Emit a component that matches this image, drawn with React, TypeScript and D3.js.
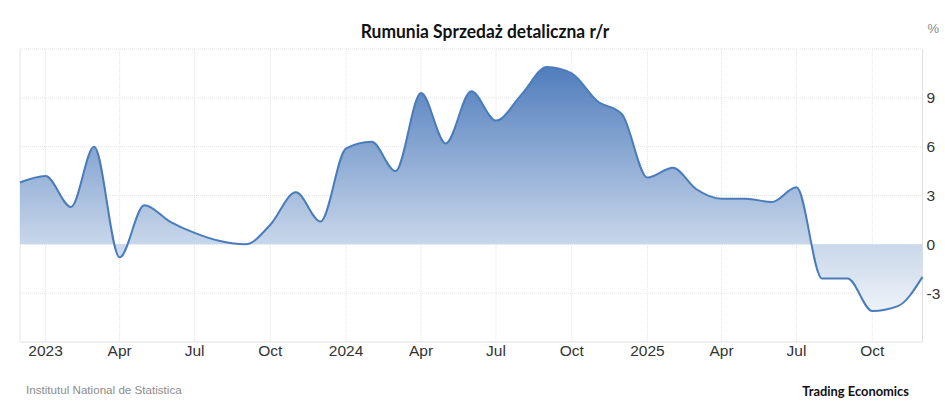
import React from "react";
import * as d3 from "d3";

const months = [
  "2022-12","2023-01","2023-02","2023-03","2023-04","2023-05","2023-06","2023-07","2023-08","2023-09","2023-10","2023-11","2023-12",
  "2024-01","2024-02","2024-03","2024-04","2024-05","2024-06","2024-07","2024-08","2024-09","2024-10","2024-11","2024-12",
  "2025-01","2025-02","2025-03","2025-04","2025-05","2025-06","2025-07","2025-08","2025-09","2025-10","2025-11","2025-12",
];
const values = [
  3.8, 4.2, 2.3, 6.0, -0.8, 2.4, 1.4, 0.7, 0.2, 0.0, 1.2, 3.2, 1.4,
  5.9, 6.3, 4.5, 9.3, 6.2, 9.4, 7.6, 9.2, 10.9, 10.5, 8.8, 8.0,
  4.1, 4.7, 3.4, 2.8, 2.8, 2.6, 3.5, -2.1, -2.1, -4.1, -3.8, -2.0,
];
const xTickDates = [
  "2023-01","2023-04","2023-07","2023-10","2024-01","2024-04","2024-07","2024-10","2025-01","2025-04","2025-07","2025-10",
];
const xTickLabels = ["2023","Apr","Jul","Oct","2024","Apr","Jul","Oct","2025","Apr","Jul","Oct"];
const yTicks = [-3, 0, 3, 6, 9];
const yGrid = [-3, 0, 3, 6, 9, 12];
const title = "Rumunia Sprzedaż detaliczna r/r";
const source = "Institutul National de Statistica";
const brand = "Trading Economics";

const W = 945;
const H = 408;
const left = 20;
const right = 922.5;
const top = 49;
const bottom = 342;

export default function App() {
  const parse = d3.timeParse("%Y-%m");
  const data = months.map((m, i) => ({ d: parse(m) as Date, v: values[i] }));
  const x = d3.scaleTime().domain([parse("2022-12") as Date, parse("2025-12") as Date]).range([left, right]);
  const y = d3.scaleLinear().domain([-6, 12]).range([bottom, top]);

  const line = d3.line<{ d: Date; v: number }>().x((p) => x(p.d)).y((p) => y(p.v)).curve(d3.curveMonotoneX);
  const area = d3
    .area<{ d: Date; v: number }>()
    .x((p) => x(p.d))
    .y0(y(0))
    .y1((p) => y(p.v))
    .curve(d3.curveMonotoneX);

  const gridColor = "#e4e4e4";

  return (
    <div style={{ position: "absolute", left: 0, top: 0, width: W, height: H, background: "#fff" }}>
      <svg width={W} height={H} style={{ display: "block" }}>
        <defs>
          <linearGradient id="fillGrad" gradientUnits="userSpaceOnUse" x1="0" y1={top} x2="0" y2={bottom}>
            <stop offset="0" stopColor="#4474b8" />
            <stop offset="0.68" stopColor="#cbd9eb" />
            <stop offset="1" stopColor="#ffffff" />
          </linearGradient>
        </defs>
        <rect x={0} y={0} width={W} height={H} fill="#fff" />
        {yGrid.map((t) => (
          <line key={"h" + t} x1={left} x2={right} y1={y(t)} y2={y(t)} stroke={gridColor} strokeWidth={1} strokeDasharray="1,1" />
        ))}
        {xTickDates.map((t) => {
          const xx = x(parse(t) as Date);
          return <line key={"v" + t} x1={xx} x2={xx} y1={top} y2={bottom} stroke={gridColor} strokeWidth={1} strokeDasharray="1,1" />;
        })}
        <line x1={left} x2={left} y1={top} y2={bottom} stroke="#e6e6e6" strokeWidth={1} />
        <line x1={right} x2={right} y1={top} y2={bottom} stroke="#e0e0e0" strokeWidth={1} />
        <line x1={left} x2={right} y1={bottom} y2={bottom} stroke="#e0e0e0" strokeWidth={1} />
        <path d={area(data) || ""} fill="url(#fillGrad)" />
        <path d={line(data) || ""} fill="none" stroke="#4a7cbc" strokeWidth={2} />
        {yTicks.map((t) => (
          <text key={"yl" + t} x={926.5} y={y(t) + 5.5} fontFamily="'Liberation Sans', Arial, sans-serif" fontSize={15.5} fill="#333">
            {t}
          </text>
        ))}
        <text x={927.5} y={33} fontFamily="'Liberation Sans', Arial, sans-serif" fontSize={13} fill="#888">%</text>
        {xTickDates.map((t, i) => (
          <text
            key={"xl" + t}
            x={x(parse(t) as Date)}
            y={355.7}
            textAnchor="middle"
            fontFamily="'Liberation Sans', Arial, sans-serif"
            fontSize={15.5}
            fill="#333"
          >
            {xTickLabels[i]}
          </text>
        ))}
        <text x={485} y={38} textAnchor="middle" fontFamily="Lato, 'Open Sans', sans-serif" fontWeight="bold" fontSize={19} fill="#111" textLength={248.5} lengthAdjust="spacingAndGlyphs">
          {title}
        </text>
        <text x={26} y={394} fontFamily="'Liberation Sans', Arial, sans-serif" fontSize={11.5} fill="#8c8c8c" textLength={155.7} lengthAdjust="spacingAndGlyphs">
          {source}
        </text>
        <text x={802.3} y={396.3} fontFamily="Lato, 'Open Sans', sans-serif" fontWeight="bold" fontSize={12.5} fill="#111" textLength={106.7} lengthAdjust="spacingAndGlyphs">
          {brand}
        </text>
      </svg>
    </div>
  );
}
